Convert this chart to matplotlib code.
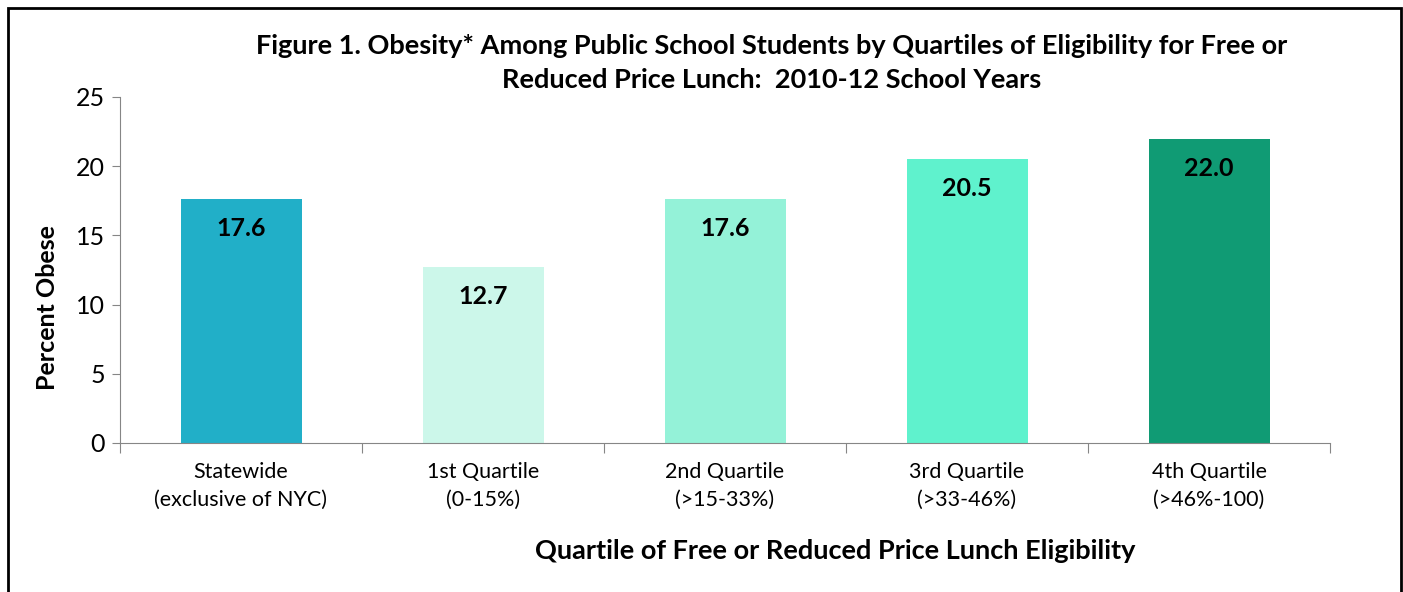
import matplotlib.pyplot as plt
from matplotlib.patches import Rectangle
import numpy as np

plt.rcParams['font.family'] = ['Lato', 'DejaVu Sans']

# Data
categories = ['Statewide\n(exclusive of NYC)', '1st Quartile\n(0-15%)', '2nd Quartile\n(>15-33%)',
              '3rd Quartile\n(>33-46%)', '4th Quartile\n(>46%-100)']
values = [17.6, 12.7, 17.6, 20.5, 22.0]
colors = ['#21AFC8', '#CCF7EA', '#94F2D8', '#5FF2CD', '#109B74']

fig = plt.figure(figsize=(14.03, 5.92), dpi=100)
ax = fig.add_axes([120 / 1403, 1 - 443 / 592, 1210 / 1403, 346 / 592])

x = np.arange(len(categories))
bars = ax.bar(x, values, width=0.5, color=colors)

for xi, v in zip(x, values):
    ax.annotate(f'{v:.1f}', (xi, v), xytext=(0, -13), textcoords='offset points',
                ha='center', va='top', fontsize=18, fontweight='bold', color='black')

ax.set_xlim(-0.5, len(categories) - 0.5)
ax.set_ylim(0, 25)
ax.set_yticks([0, 5, 10, 15, 20, 25])
ax.tick_params(axis='y', labelsize=18, length=6, color='#868686', pad=5)

# category boundary ticks, labels at centres
ax.set_xticks(np.arange(-0.5, len(categories)), labels=[''] * (len(categories) + 1))
ax.set_xticks(x, labels=categories, minor=True)
ax.tick_params(axis='x', which='major', length=7, color='#868686')
ax.tick_params(axis='x', which='minor', length=0, labelsize=15.5, pad=14)
for lbl in ax.get_xticklabels(minor=True):
    lbl.set_linespacing(1.45)

for s in ['top', 'right']:
    ax.spines[s].set_visible(False)
for s in ['left', 'bottom']:
    ax.spines[s].set_color('#868686')

fig.text(48 / 1403, 1 - 308 / 592, 'Percent Obese', rotation=90,
         ha='center', va='center', fontsize=18, fontweight='bold')

fig.text(772 / 1403, 1 - 63 / 592,
         'Figure 1. Obesity* Among Public School Students by Quartiles of Eligibility for Free or\nReduced Price Lunch:  2010-12 School Years',
         ha='center', va='center', fontsize=19.5, fontweight='bold', linespacing=1.45)
fig.text(835 / 1403, 1 - 551 / 592, 'Quartile of Free or Reduced Price Lunch Eligibility',
         ha='center', va='center', fontsize=19.5, fontweight='bold')

# outer frame
fig.patches.append(Rectangle((8 / 1403, -0.1), 1393 / 1403, 1.1 - 8 / 592,
                             transform=fig.transFigure, fill=False, edgecolor='black', linewidth=2))

fig.savefig('out.png', dpi=100)
